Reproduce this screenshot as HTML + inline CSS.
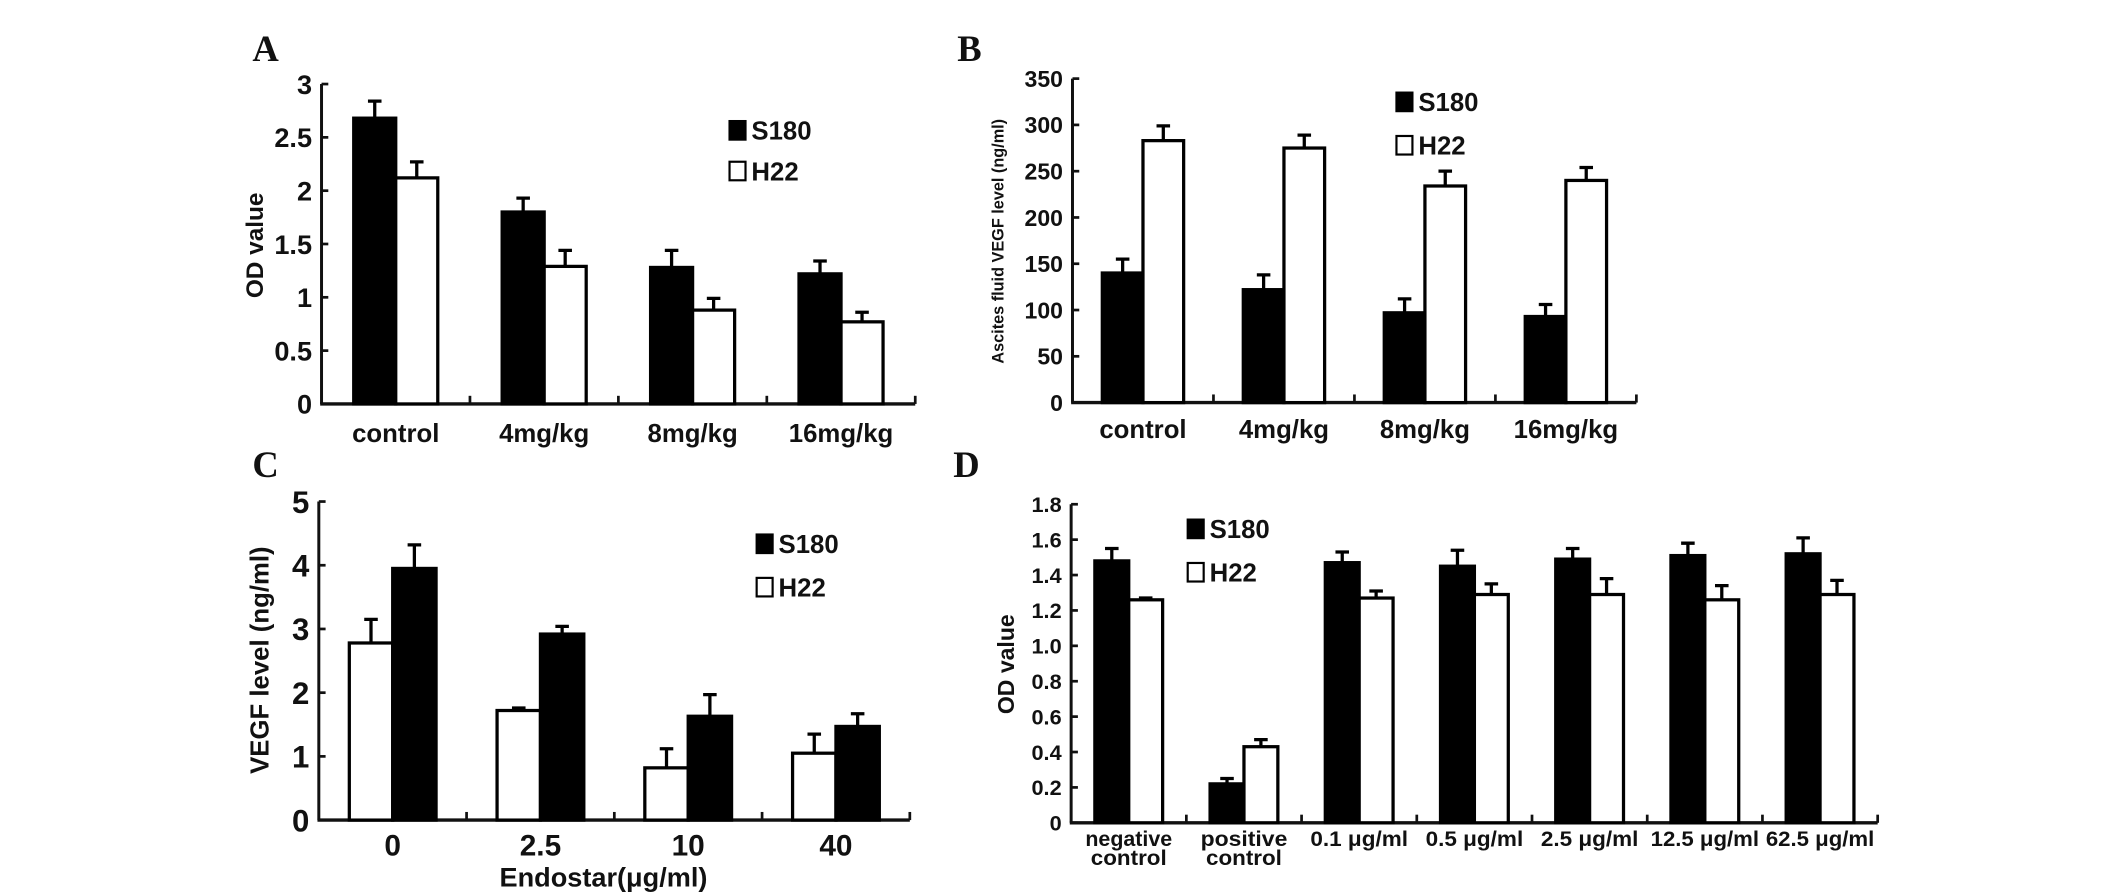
<!DOCTYPE html>
<html><head><meta charset="utf-8"><style>
html,body{margin:0;padding:0;background:#fff;}
svg{display:block;}
text{font-family:"Liberation Sans",Arial,sans-serif;font-weight:bold;fill:#111;}
.lbl{font-family:"Liberation Serif",serif;font-weight:bold;font-size:27px;}
</style></head><body>
<svg id="fig" width="2126" height="896" viewBox="0 0 1568 661" xmlns="http://www.w3.org/2000/svg">
<rect width="1568" height="661" fill="#fff"/>
</svg>
<script>
// ---- Panel A data ----
const aCats = ["control","4mg/kg","8mg/kg","16mg/kg"];
const aS180 = [2.68,1.80,1.28,1.22];
const aS180Err = [2.84,1.93,1.44,1.34];
const aH22 = [2.12,1.29,0.88,0.77];
const aH22Err = [2.27,1.44,0.99,0.86];
const aTicks = ["0","0.5","1","1.5","2","2.5","3"];
// ---- Panel B data ----
const bCats = ["control","4mg/kg","8mg/kg","16mg/kg"];
const bS180 = [140,122,97,93];
const bS180Err = [155,138,112,106];
const bH22 = [283,275,234,240];
const bH22Err = [299,289,250,254];
const bTicks = ["0","50","100","150","200","250","300","350"];
// ---- Panel C data ----
const cCats = ["0","2.5","10","40"];
const cH22 = [2.78,1.72,0.82,1.05];
const cH22Err = [3.15,1.76,1.12,1.35];
const cS180 = [3.95,2.92,1.63,1.47];
const cS180Err = [4.32,3.04,1.97,1.67];
const cTicks = ["0","1","2","3","4","5"];
// ---- Panel D data ----
const dCats = [["negative","control"],["positive","control"],["0.1 μg/ml"],["0.5 μg/ml"],["2.5 μg/ml"],["12.5 μg/ml"],["62.5 μg/ml"]];
const dS180 = [1.48,0.22,1.47,1.45,1.49,1.51,1.52];
const dS180Err = [1.55,0.25,1.53,1.54,1.55,1.58,1.61];
const dH22 = [1.26,0.43,1.27,1.29,1.29,1.26,1.29];
const dH22Err = [1.27,0.47,1.31,1.35,1.38,1.34,1.37];
const dTicks = ["0","0.2","0.4","0.6","0.8","1.0","1.2","1.4","1.6","1.8"];

const svg = document.getElementById('fig');
const NS = "http://www.w3.org/2000/svg";
function mk(tag, attrs, parent){
  const e = document.createElementNS(NS, tag);
  for (const k in attrs) e.setAttribute(k, attrs[k]);
  (parent||svg).appendChild(e);
  return e;
}

function panel(o){
  const g = mk('g', {});
  
  
  const ymax = parseFloat(o.ticks[o.ticks.length-1]);
  const y = v => o.y0 - (v / ymax) * (o.y0 - o.ytop);
  const n = o.cats.length;
  const xEnd = o.x0 + n * o.step;
  const bandCenter = i => o.x0 + o.step * (i + 0.5);
  const ya = mk('line', {x1:o.x0, y1:o.ytop, x2:o.x0, y2:o.y0, stroke:'#111', 'stroke-width':2.2}, g);
  
  
  const xa = mk('line', {x1:o.x0-1, y1:o.y0, x2:xEnd, y2:o.y0, stroke:'#111', 'stroke-width':2.5}, g);
  
  
  o.ticks.forEach(t => {
    const v = parseFloat(t);
    mk('line', {x1:o.x0, y1:y(v), x2:o.x0+5, y2:y(v), stroke:'#111', 'stroke-width':2}, g);
    const tx = mk('text', {x:o.x0-7, y:y(v)+o.tfs*0.36, 'text-anchor':'end', 'font-size':o.tfs}, g);
    tx.textContent = t;
    
    
  });
  for (let i=1;i<=n;i++){
    mk('line', {x1:o.x0+o.step*i, y1:o.y0, x2:o.x0+o.step*i, y2:o.y0-6, stroke:'#111', 'stroke-width':2}, g);
  }
  function bar(x, v, err, black, nm){
    const top = y(v);
    const r = mk('rect', {x:x, y:top, width:o.bw, height:o.y0-top, fill: black?'#000':'#fff', stroke:'#000', 'stroke-width':2.4}, g);
    
    
    const cx = x + o.bw/2, ey = y(err);
    const eb = mk('path', {d:`M${cx} ${top} V${ey} M${cx-5} ${ey} H${cx+5}`, stroke:'#000', 'stroke-width':2.4, fill:'none'}, g);
    
    
  }
  for (let i=0;i<n;i++){
    const c = bandCenter(i);
    bar(c - o.bw, o.first[i], o.firstErr[i], o.firstBlack, 'bar-'+(o.firstBlack?'s180':'h22'));
    bar(c, o.second[i], o.secondErr[i], !o.firstBlack, 'bar-'+(o.firstBlack?'h22':'s180'));
    const lines = Array.isArray(o.cats[i]) ? o.cats[i] : [o.cats[i]];
    lines.forEach((ln, k) => {
      const tx = mk('text', {x:c + (o.labDx||0), y:o.y0+o.xly + k*o.xfs*0.9, 'text-anchor':'middle', 'font-size':o.xfs}, g);
      tx.textContent = ln;
      if (o.xcond) tx.setAttribute('textLength', o.xcond(ln));
      if (o.xcond) tx.setAttribute('lengthAdjust', 'spacingAndGlyphs');
      
      
    });
  }
  const yt = mk('text', {x:0, y:0, 'text-anchor':'middle', 'font-size':o.ytfs, transform:`translate(${o.ytx},${o.yty}) rotate(-90)`}, g);
  yt.textContent = o.ytitle;
  
  
  [['S180',true],['H22',false]].forEach((L, k) => {
    const ly = o.legY + k*o.legGap;
    const sq = mk('rect', {x:o.legX, y:ly-o.lfs*0.72, width:o.lfs*0.62, height:o.lfs*0.72, fill:L[1]?'#000':'#fff', stroke:'#000', 'stroke-width':1.6}, g);
    
    
    const tx = mk('text', {x:o.legX+o.lfs*0.85, y:ly, 'font-size':o.lfs}, g);
    tx.textContent = L[0];
    
    
  });
  const pl = mk('text', {x:o.letX, y:o.letY, class:'lbl'}, g);
  pl.textContent = o.letter;
  
  
  return g;
}

panel({name:'panel-a', letter:'A', letX:186, letY:45, x0:237, step:109.5, ytop:62, y0:298, bw:31,
  cats:aCats, ticks:aTicks, first:aS180, firstErr:aS180Err, second:aH22, secondErr:aH22Err, firstBlack:true,
  tfs:20, xfs:19, xly:28, ytitle:'OD value', ytfs:18, ytx:194, yty:181,
  legX:538, legY:103, legGap:30, lfs:19});

panel({name:'panel-b', letter:'B', letX:706, letY:45, x0:791, step:104, ytop:58, y0:297, bw:30,
  cats:bCats, ticks:bTicks, first:bS180, firstErr:bS180Err, second:bH22, secondErr:bH22Err, firstBlack:true,
  tfs:17, xfs:19, xly:26, ytitle:'Ascites fluid VEGF level (ng/ml)', ytfs:12, ytx:740, yty:178,
  legX:1030, legY:82, legGap:32, lfs:19});

panel({name:'panel-c', letter:'C', letX:186, letY:352, x0:235, step:109, ytop:370, y0:605, bw:32,
  cats:cCats, ticks:cTicks, first:cH22, firstErr:cH22Err, second:cS180, secondErr:cS180Err, firstBlack:false,
  tfs:23, xfs:22, xly:26, ytitle:'VEGF level (ng/ml)', ytfs:19, ytx:198, yty:487,
  legX:558, legY:408, legGap:32, lfs:19});

panel({name:'panel-d', letter:'D', letX:703, letY:352, x0:790, step:85, ytop:372, y0:607, bw:25,
  cats:dCats, ticks:dTicks, first:dS180, firstErr:dS180Err, second:dH22, secondErr:dH22Err, firstBlack:true,
  tfs:16, xfs:15.5, xly:17, ytitle:'OD value', ytfs:17, ytx:748, yty:490,
  legX:876, legY:397, legGap:32, lfs:19,
  xcond: s => s.length*8});

const xt = mk('text', {x:445, y:654, 'text-anchor':'middle', 'font-size':20});
xt.textContent = 'Endostar(μg/ml)';


</script>
</body></html>
